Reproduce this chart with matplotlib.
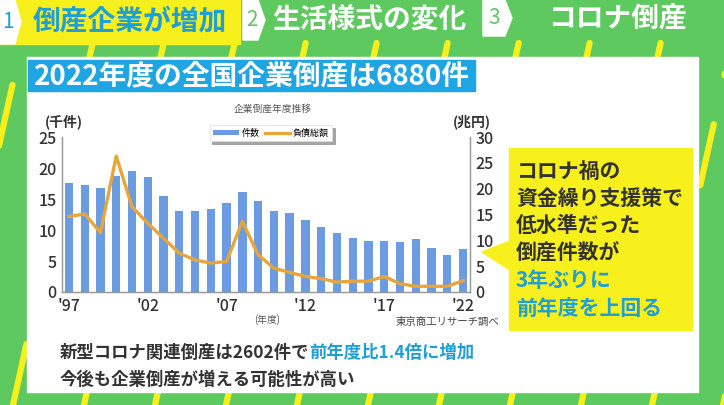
import matplotlib
matplotlib.use('Agg')
import matplotlib.pyplot as plt
from matplotlib.patches import Polygon, Rectangle
from matplotlib.lines import Line2D

# ---- data ----
years = list(range(1997, 2023))
cases_k = [17.6, 17.2, 16.7, 18.7, 19.5, 18.6, 15.5, 13.1, 13.1, 13.4, 14.3, 16.2, 14.7,
           13.1, 12.7, 11.6, 10.5, 9.5, 8.7, 8.2, 8.2, 8.0, 8.5, 7.1, 6.0, 6.9]
debt_tn = [14.6, 15.1, 11.5, 26.3, 16.5, 13.3, 10.4, 7.5, 6.2, 5.6, 5.9, 13.7, 7.2,
           4.6, 3.8, 3.0, 2.6, 1.9, 2.1, 2.1, 3.0, 1.6, 1.1, 1.1, 1.1, 2.2]
left_ticks = [0, 5, 10, 15, 20, 25]
right_ticks = [0, 5, 10, 15, 20, 25, 30]
xtick_years = [1997, 2002, 2007, 2012, 2017, 2022]
xtick_labels = ["'97", "'02", "'07", "'12", "'17", "'22"]
series_names = ["件数", "負債総額"]

plt.rcParams['font.family'] = ['Noto Sans CJK JP', 'DejaVu Sans']

GREEN = '#5ec95f'
YELLOW = '#f7f01c'
BLUE_T = '#1f9fd6'
BAR = '#6b9be0'
LINE = '#e8a63a'
DARK = '#333333'

W, H = 724, 405
fig = plt.figure(figsize=(7.24, 4.05), dpi=100)
bg = fig.add_axes([0, 0, 1, 1], zorder=0)
bg.set_xlim(0, W)
bg.set_ylim(H, 0)
bg.axis('off')

bg.add_patch(Rectangle((0, 0), W, H, color=GREEN, zorder=0))

# decorative dashed yellow stripes
for x0 in range(-200, 800, 71):
    bg.add_line(Line2D([x0, x0 + 0.22 * 362], [405, 43], color=YELLOW, lw=4.5,
                       linestyle=(0, (10, 8)), dash_capstyle='round', zorder=1))

# header tabs
bg.add_patch(Rectangle((0, 0), 240, 44, color=YELLOW, zorder=2))
bg.add_patch(Polygon([(0, 0), (15, 0), (21, 22), (15, 44), (0, 44)], color='white', zorder=3))
bg.text(8, 22, "1", color=BLUE_T, fontsize=15, ha='center', va='center', zorder=4)
bg.text(130, 22, "倒産企業が増加", color=BLUE_T, fontsize=20, fontweight='bold',
        ha='center', va='center', zorder=4)
bg.add_patch(Polygon([(243, 0), (258, 0), (265, 20), (258, 40), (243, 40)], color='white', zorder=3))
bg.text(252, 20, "2", color=GREEN, fontsize=15, ha='center', va='center', zorder=4)
bg.text(369, 20, "生活様式の変化", color='white', fontsize=20, fontweight='bold',
        ha='center', va='center', zorder=4)
bg.add_patch(Polygon([(483, 0), (505, 0), (512, 18), (505, 36), (483, 36)], color='white', zorder=3))
bg.text(494, 18, "3", color=GREEN, fontsize=15, ha='center', va='center', zorder=4)
bg.text(617, 20, "コロナ倒産", color='white', fontsize=20, fontweight='bold',
        ha='center', va='center', zorder=4)

# white panel
bg.add_patch(Rectangle((27, 57), 671, 335, color='white', zorder=3))
# title box
bg.add_patch(Rectangle((28, 60), 447, 31, color='#1ea5e2', zorder=4))
bg.text(34, 76, "2022年度の全国企業倒産は6880件", color='white', fontsize=20,
        fontweight='bold', ha='left', va='center', zorder=5)

# callout
bg.add_patch(Rectangle((509, 148), 183, 182, color=YELLOW, zorder=6))
bg.add_patch(Polygon([(482, 252), (510, 241), (510, 270)], color=YELLOW, zorder=6))
call_lines = [("コロナ禍の", DARK), ("資金繰り支援策で", DARK), ("低水準だった", DARK),
              ("倒産件数が", DARK), ("3年ぶりに", BLUE_T), ("前年度を上回る", BLUE_T)]
for i, (s, c) in enumerate(call_lines):
    bg.text(516, 171 + i * 27.4, s, color=c, fontsize=15, fontweight='bold',
            ha='left', va='center', zorder=7)

# bottom text
t1 = bg.text(60, 353, "新型コロナ関連倒産は2602件で", color=DARK, fontsize=12.5,
             fontweight='bold', ha='left', va='center', zorder=5)
bg.annotate("前年度比1.4倍に増加", xy=(1, 0), xycoords=t1, color=BLUE_T, fontsize=12.5,
            fontweight='bold', ha='left', va='bottom', zorder=5)
bg.text(60, 380, "今後も企業倒産が増える可能性が高い", color=DARK, fontsize=12.5,
        fontweight='bold', ha='left', va='center', zorder=5)

# chart text
bg.text(273, 109, "企業倒産年度推移", color='#555555', fontsize=7, ha='center', va='center', zorder=5)
bg.text(64, 122, "(千件)", color=DARK, fontsize=10, fontweight='bold', ha='center', va='center', zorder=5)
bg.text(472, 122, "(兆円)", color=DARK, fontsize=10, fontweight='bold', ha='center', va='center', zorder=5)
bg.text(267, 320, "(年度)", color='#555555', fontsize=7, ha='center', va='center', zorder=5)
bg.text(499, 322, "東京商工リサーチ調べ", color='#444444', fontsize=7.5, ha='right', va='center', zorder=5)

# chart axes
L, R, T, B = 62, 470, 137, 292
ax = fig.add_axes([L / W, (H - B) / H, (R - L) / W, (B - T) / H], zorder=2)
ax.patch.set_alpha(0)
bars = ax.bar(years, cases_k, width=0.53, color=BAR, zorder=2, label=series_names[0])
ax.set_xlim(1996.56, 2022.44)
ax.set_ylim(0, 25)
ax.set_yticks(left_ticks)
ax.set_xticks(xtick_years)
ax.set_xticklabels(xtick_labels)
ax.spines['top'].set_visible(False)
for s in ['left', 'bottom', 'right']:
    ax.spines[s].set_color('#999999')
    ax.spines[s].set_linewidth(0.9)
ax.tick_params(axis='both', length=0, labelsize=11.5, colors=DARK, pad=4)
for lab in ax.get_xticklabels() + ax.get_yticklabels():
    lab.set_fontweight('medium')

ax2 = ax.twinx()
ax2.patch.set_alpha(0)
line, = ax2.plot(years, debt_tn, color=LINE, lw=2.4, zorder=3, label=series_names[1])
ax2.set_ylim(0, 30)
ax2.set_yticks(right_ticks)
ax2.spines['top'].set_visible(False)
for s in ['left', 'bottom', 'right']:
    ax2.spines[s].set_color('#999999')
    ax2.spines[s].set_linewidth(0.9)
ax2.tick_params(axis='both', length=0, labelsize=11.5, colors=DARK, pad=4)
for lab in ax2.get_yticklabels():
    lab.set_fontweight('medium')

leg = ax2.legend([bars, line], series_names, ncol=2, loc='center',
                 bbox_to_anchor=(271, 133), bbox_transform=bg.transData,
                 fontsize=6.5, frameon=True, shadow=True, handlelength=2.8,
                 handleheight=0.4, columnspacing=0.6, handletextpad=0.3,
                 borderpad=0.4, fancybox=False)
leg.get_frame().set_edgecolor('#dddddd')
leg.get_frame().set_linewidth(0.5)

fig.savefig('out.png', dpi=100)
